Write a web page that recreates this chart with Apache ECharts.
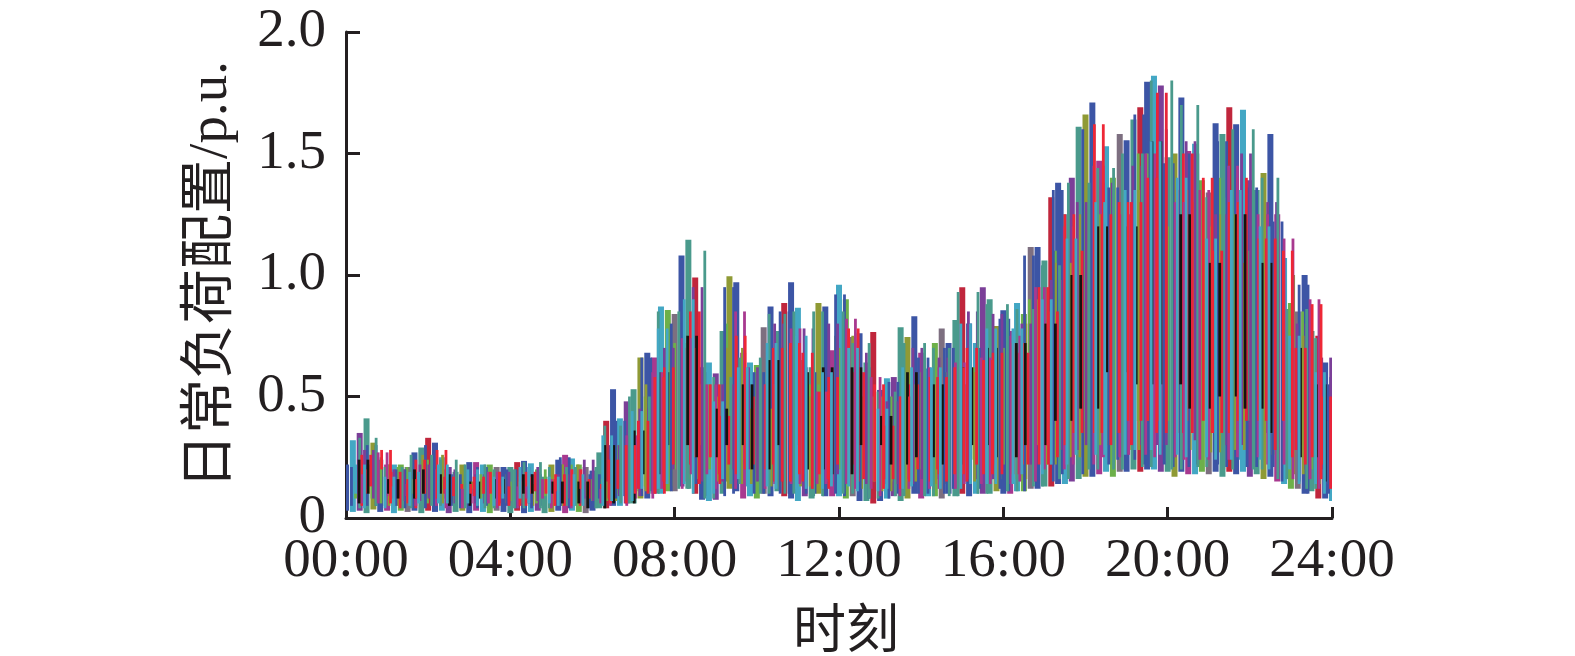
<!DOCTYPE html>
<html><head><meta charset="utf-8">
<style>html,body{margin:0;padding:0;background:#fff}#c{width:1575px;height:656px}</style>
<script src="https://cdn.jsdelivr.net/npm/echarts@6/dist/echarts.min.js"></script>
</head><body><div id="c"></div>
<script>
const xTickLabels=['00:00','04:00','08:00','12:00','16:00','20:00','24:00'];
const yTickLabels=['0','0.5','1.0','1.5','2.0'];
const xName='时刻';
const yName='日常负荷配置/p.u.';
// upper and lower edge of the whole bundle, one reading every 10 min
const upperEdge=[.22,.32,.35,.41,.31,.24,.22,.22,.22,.21,.27,.29,.33,.31,.25,.21,.19,.22,.23,.23,.22,.22,.21,.21,.21,.23,.235,.225,.19,.17,.22,.24,.26,.245,.22,.21,.195,.27,.40,.53,.41,.48,.53,.66,.68,.66,.87,.856,.84,1.08,1.145,.99,.62,.64,.595,.77,.995,.97,.68,.64,.63,.785,.87,.77,.885,.97,.865,.62,.62,.885,.87,.69,.96,.90,.745,.76,.64,.765,.527,.575,.58,.785,.745,.83,.68,.615,.72,.78,.72,.815,.95,.80,.72,.95,.90,.79,.855,.77,.885,.84,1.115,1.115,1.06,1.32,1.38,1.25,1.40,1.61,1.66,1.71,1.47,1.53,1.40,1.58,1.555,1.64,1.69,1.795,1.82,1.78,1.485,1.50,1.73,1.51,1.54,1.39,1.34,1.625,1.58,1.69,1.62,1.68,1.39,1.35,1.42,1.58,1.25,1.07,.885,.85,1.00,.77,.75,.64,.58];
const lowerEdge=[.03,.025,.03,.02,.035,.025,.03,.02,.03,.025,.03,.02,.03,.025,.03,.02,.025,.03,.02,.03,.025,.02,.03,.025,.02,.03,.02,.025,.03,.02,.025,.03,.02,.03,.025,.02,.03,.04,.04,.05,.05,.06,.06,.08,.08,.10,.10,.11,.11,.13,.12,.10,.075,.07,.075,.10,.12,.11,.08,.09,.08,.10,.09,.11,.09,.08,.07,.09,.08,.10,.09,.09,.09,.08,.09,.07,.07,.06,.07,.08,.09,.07,.08,.10,.08,.09,.09,.08,.10,.09,.10,.09,.10,.10,.10,.11,.10,.10,.11,.11,.12,.12,.13,.13,.14,.14,.15,.16,.17,.17,.18,.19,.17,.19,.19,.20,.19,.20,.20,.19,.19,.17,.19,.18,.18,.19,.18,.19,.17,.19,.18,.19,.17,.18,.16,.17,.15,.14,.12,.12,.10,.11,.08,.08,.07];
// individual load curves, one reading every 20 min
const blueCurve=[.21,.05,.30,.05,.20,.04,.30,.05,.18,.04,.21,.05,.20,.04,.18,.05,.25,.04,.18,.08,.40,.09,.66,.11,.80,.14,.60,.09,.95,.10,.60,.10,.85,.10,.60,.10,.92,.09,.62,.08,.56,.10,.66,.10,.70,.12,.70,.12,.82,.11,1.08,.15,1.35,.18,1.60,.22,1.36,.24,1.66,.22,1.46,.21,1.50,.22,1.55,.21,1.36,.21,1.22,.15,.96,.10,.55];
const tealCurve=[.04,.33,.05,.21,.04,.26,.05,.24,.04,.22,.04,.20,.04,.23,.04,.21,.05,.21,.04,.38,.06,.50,.10,.85,.12,1.10,.08,.58,.14,.66,.10,.84,.10,.85,.09,.85,.10,.72,.08,.52,.09,.72,.09,.70,.09,.93,.10,.88,.11,.86,.13,1.04,.16,1.38,.20,1.44,.20,1.50,.21,1.80,.20,1.70,.21,1.32,.20,1.60,.20,1.40,.16,.86,.12,.74,.09];
const greenCurve=[.15,.08,.25,.06,.21,.06,.24,.07,.14,.08,.18,.07,.15,.06,.20,.09,.22,.07,.16,.10,.30,.13,.50,.20,.72,.30,.55,.20,.80,.18,.50,.22,.70,.20,.55,.20,.70,.22,.50,.15,.50,.20,.60,.25,.60,.24,.62,.22,.70,.25,.90,.30,1.10,.40,1.30,.40,1.20,.40,1.50,.40,1.20,.45,1.30,.40,1.40,.40,1.10,.35,1.05,.30,.85,.20,.45];
const purpleCurve=[.07,.28,.08,.20,.07,.22,.08,.20,.06,.18,.06,.19,.06,.21,.07,.18,.08,.24,.07,.30,.09,.45,.15,.70,.20,.95,.15,.55,.20,.62,.15,.80,.18,.78,.15,.80,.18,.68,.14,.48,.14,.70,.16,.66,.16,.85,.16,.84,.20,.80,.22,.98,.28,1.30,.30,1.38,.30,1.45,.30,1.60,.30,1.55,.32,1.25,.30,1.50,.35,1.30,.28,.80,.20,.66,.15];
const oliveCurve=[.12,.10,.22,.05,.16,.10,.26,.06,.15,.10,.16,.06,.18,.05,.14,.05,.22,.09,.15,.07,.28,.11,.55,.13,.66,.16,.50,.15,.70,.14,.45,.13,.65,.13,.50,.15,.75,.12,.50,.11,.42,.15,.55,.14,.55,.15,.60,.16,.65,.16,.80,.22,1.05,.25,1.25,.30,1.15,.28,1.35,.30,1.15,.28,1.20,.27,1.25,.28,1.05,.26,1.00,.18,.75,.14,.40];
const cyanCurve=[.10,.22,.04,.17,.05,.19,.06,.22,.06,.20,.05,.17,.08,.21,.06,.17,.05,.18,.05,.34,.07,.44,.12,.78,.14,.90,.10,.48,.16,.62,.13,.72,.12,.75,.12,.60,.13,.70,.11,.45,.12,.62,.13,.62,.12,.80,.14,.78,.14,.78,.18,.90,.22,1.15,.26,1.30,.26,1.35,.28,1.55,.26,1.40,.25,1.15,.24,1.35,.24,1.20,.20,.75,.14,.60,.10];
const mauveCurve=[.18,.06,.27,.09,.14,.05,.20,.04,.12,.06,.19,.04,.13,.08,.16,.04,.20,.06,.12,.05,.34,.08,.60,.12,.74,.18,.55,.12,.85,.12,.55,.14,.78,.14,.52,.14,.82,.12,.58,.09,.50,.12,.62,.12,.64,.14,.66,.14,.75,.15,.95,.20,1.20,.22,1.45,.25,1.25,.26,1.50,.25,1.30,.24,1.35,.24,1.45,.25,1.25,.22,1.15,.16,.90,.12,.50];
const blackCurve=[.06,.24,.10,.16,.08,.20,.10,.18,.05,.15,.08,.16,.10,.18,.10,.15,.06,.15,.04,.30,.06,.36,.18,.60,.30,.75,.25,.45,.30,.55,.20,.65,.30,.60,.20,.62,.18,.62,.30,.42,.22,.60,.25,.55,.22,.62,.30,.70,.25,.72,.30,.80,.40,1.00,.45,1.20,.60,1.20,.55,1.55,.55,1.25,.45,1.05,.50,1.25,.45,1.05,.35,.70,.25,.55,.15];
const redCurveA=[.10,.20,.28,.06,.16,.08,.28,.12,.14,.10,.19,.05,.17,.10,.16,.05,.20,.12,.14,.06,.30,.10,.58,.15,.70,.25,.55,.18,.75,.20,.55,.15,.72,.18,.52,.16,.78,.15,.55,.12,.50,.15,.58,.18,.62,.18,.65,.18,.72,.22,.95,.30,1.25,.35,1.62,.35,1.30,.40,1.40,.35,1.35,.40,1.40,.35,1.30,.40,1.15,.40,1.10,.25,.88,.16,.48];
const redCurveB=[.05,.26,.13,.19,.04,.24,.10,.17,.09,.17,.10,.13,.05,.19,.11,.18,.05,.16,.08,.24,.12,.40,.10,.62,.22,.85,.14,.42,.22,.50,.22,.70,.15,.68,.12,.58,.22,.60,.16,.38,.16,.55,.20,.58,.15,.70,.22,.68,.18,.68,.22,.85,.25,1.10,.35,1.25,.30,1.30,.40,1.75,.35,1.50,.35,1.10,.35,1.40,.40,1.15,.28,.70,.22,.50,.12];
// time shift of each load curve's samples, minutes
const sampleShift=[0,5,-4,2,-6,4,-2,6,-5,3,-3,1];
const edgeColors=['#3c55a5','#43a7c4','#7b3f98','#4a9a8c','#8f9a35','#3c55a5','#a8398f','#43a7c4','#6db04a','#7d6f80','#3c55a5','#4a9a8c','#c0263c'];

const curves=[
 {d:greenCurve,c:'#6db04a',m:4},{d:oliveCurve,c:'#8f9a35',m:8},{d:blueCurve,c:'#3c55a5',m:0},
 {d:purpleCurve,c:'#7b3f98',m:14},{d:tealCurve,c:'#4a9a8c',m:10},{d:redCurveB,c:'#e8243a',m:11},
 {d:mauveCurve,c:'#a8398f',m:16},{d:blackCurve,c:'#15130f',m:6},{d:redCurveA,c:'#ee2736',m:18},{d:cyanCurve,c:'#43a7c4',m:2}
];
const font="'Liberation Serif','Noto Sans CJK SC',serif";
const ink='#231f20';
const stripe=(width,colorOf)=>(params,api)=>{
 const a=api.coord([api.value(0),api.value(1)]),b=api.coord([api.value(0),api.value(2)]);
 return {type:'rect',shape:{x:a[0]-width/2,y:Math.min(a[1],b[1]),width,height:Math.abs(a[1]-b[1])},
  style:{fill:colorOf(params.dataIndex)}};
};
const edgeRows=upperEdge.map((u,i)=>[i*10/60,lowerEdge[i],u]);
const curveRows=(s,k)=>s.d.slice(0,-1).map((v,i)=>[((i+.5)*20+s.m+sampleShift[(i*5+k*3)%sampleShift.length])/60,Math.min(v,s.d[i+1]),Math.max(v,s.d[i+1])]);
const series=[
 {type:'custom',data:edgeRows,encode:{x:0,y:[1,2]},clip:true,silent:true,z:1,renderItem:stripe(6,i=>edgeColors[i%edgeColors.length])},
 ...curves.map((s,k)=>({type:'custom',data:curveRows(s,k),encode:{x:0,y:[1,2]},clip:true,silent:true,z:3+k,renderItem:stripe(2.8,()=>s.c)}))
];
const chart=echarts.init(document.getElementById('c'),null,{renderer:'canvas'});
chart.setOption({
 animation:false,backgroundColor:'#fff',
 grid:{left:346,right:243,top:32,bottom:138,outerBoundsMode:'none',containLabel:false},
 xAxis:{type:'value',min:0,max:24,interval:4,splitLine:{show:false},name:xName,nameLocation:'middle',nameGap:90,
  nameTextStyle:{fontFamily:font,fontSize:53,color:ink,padding:[0,0,0,14]},
  axisLine:{show:true,lineStyle:{color:ink,width:3}},
  axisTick:{show:true,inside:true,length:11,lineStyle:{color:ink,width:3}},
  axisLabel:{margin:16,fontFamily:font,fontSize:55,color:ink,hideOverlap:false,showMinLabel:true,showMaxLabel:true,formatter:v=>xTickLabels[v/4]}},
 yAxis:{type:'value',min:0,max:2,interval:.5,splitLine:{show:false},name:yName,nameLocation:'middle',nameGap:107,nameRotate:90,
  nameTextStyle:{fontFamily:font,fontSize:55,color:ink},
  axisLine:{show:true,lineStyle:{color:ink,width:3}},
  axisTick:{show:true,inside:true,length:14,lineStyle:{color:ink,width:3}},
  axisLabel:{margin:20,fontFamily:font,fontSize:55,color:ink,showMinLabel:true,showMaxLabel:true,formatter:v=>yTickLabels[v*2]}},
 series
});
</script></body></html>
